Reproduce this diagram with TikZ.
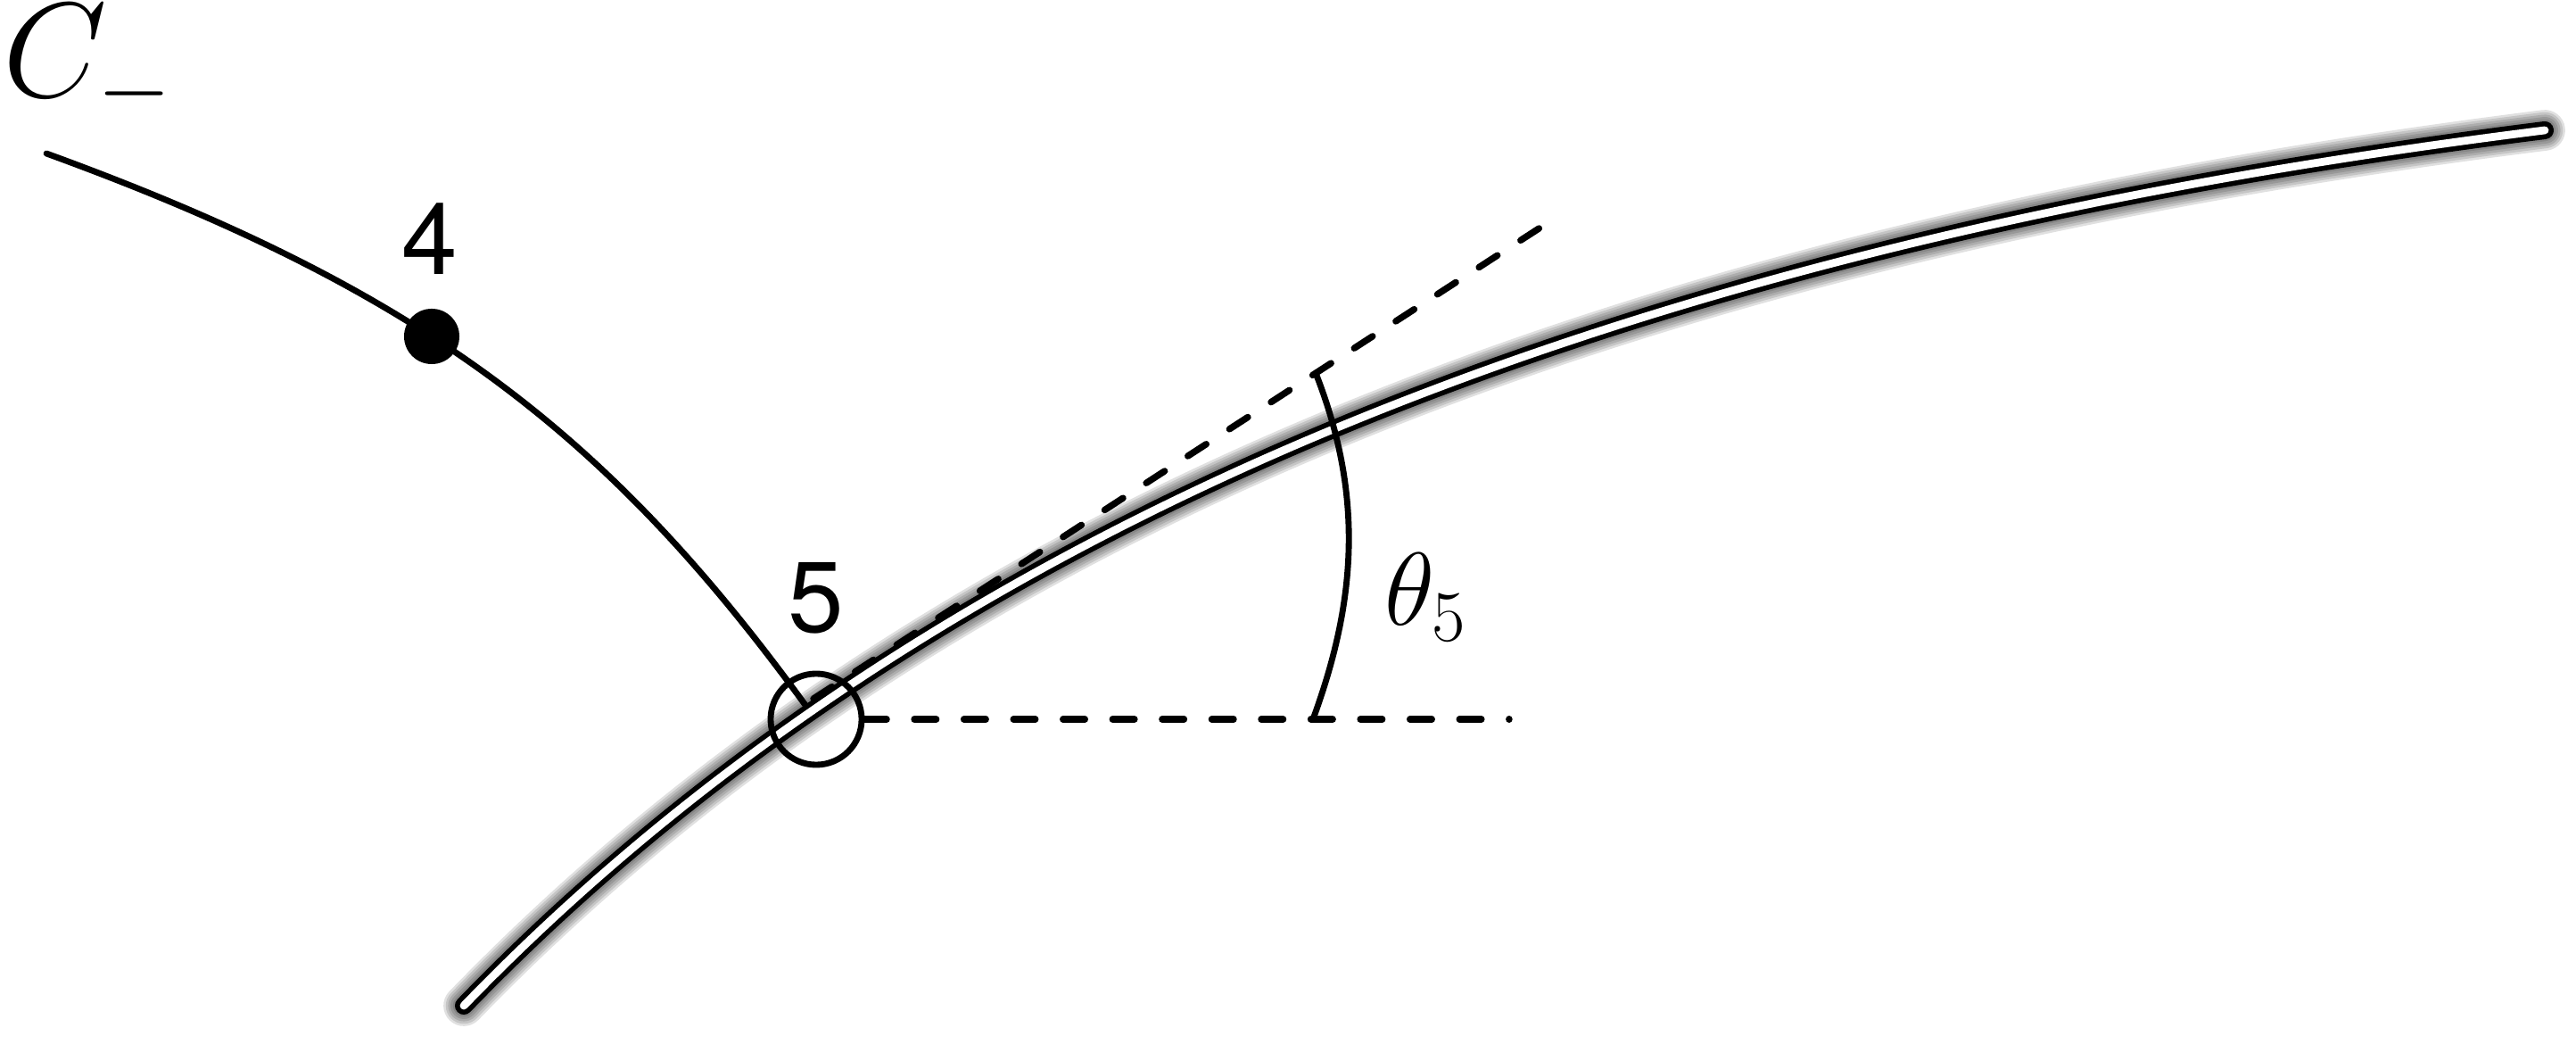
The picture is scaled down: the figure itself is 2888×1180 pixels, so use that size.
\documentclass[tikz,border=0pt]{standalone}
\usepackage{fix-cm}
\usepackage{fontspec}
\newfontfamily\digitfont{TeX Gyre Heros}
\begin{document}
\begin{tikzpicture}[x=0.01cm,y=-0.01cm,
  thinline/.style={line width=1.95pt, line cap=round},
  dashline/.style={line width=2.1pt, line cap=round, dash pattern=on 7pt off 8.8pt},
  edgeline/.style={line width=1.6pt, double=white, double distance=2.5pt, line cap=round},
  shadowline/.style={line cap=round, black, opacity=0.12},
  digit/.style={font=\digitfont\fontsize{32}{38}\selectfont, inner sep=0pt},
]
\useasboundingbox (0,0) rectangle (2888,1180);

% coordinates of the thick double curve
\coordinate (dA) at (520,1127);
\coordinate (dB) at (1111,516);
\coordinate (dC) at (1960,258);
\coordinate (dD) at (2853,146);

% shadow of the double curve
\begin{scope}[shift={(9,20)}]
  \foreach \w in {13pt,11.5pt,10pt,8.5pt,7pt,5.5pt}{
    \draw[shadowline, line width=\w] (dA) .. controls (dB) and (dC) .. (dD);
  }
\end{scope}

% curve C_-
\coordinate (cA) at (52,172);
\coordinate (cB) at (475,326);
\coordinate (cC) at (682,486);
\coordinate (cD) at (905,793);
\draw[thinline] (cA) .. controls (cB) and (cC) .. (cD);

% double curve
\draw[edgeline] (dA) .. controls (dB) and (dC) .. (dD);

% point 5 circle
\node[draw, circle, line width=1.95pt, minimum size=1.02cm, inner sep=0pt] (c5) at (915,806) {};

% dashed horizontal and tangent lines
\coordinate (hend) at (1692,806);
\draw[dashline] (c5.east) -- (hend);
\coordinate (tstart) at (912,783);
\coordinate (tend) at (1730,253);
\draw[dashline] (tstart) -- (tend);

% angle arc
\coordinate (abot) at (1472,806);
\coordinate (atop) at (1475,418);
\draw[thinline] (abot) .. controls (1522,670) and (1528,553) .. (atop);

% point 4
\node[fill, circle, minimum size=0.62cm, inner sep=0pt] (d4) at (484,377) {};

% labels
\node[anchor=base west, inner sep=0pt, font=\fontsize{43}{50}\selectfont] (cminus) at (3,109) {$C_-$};
\node[digit] (lab4) at (482,268) {4};
\node[digit] (lab5) at (915,670) {5};
\node[anchor=base west, inner sep=0pt, font=\fontsize{33}{40}\selectfont] (theta) at (1552,701) {$\theta_5$};
\end{tikzpicture}
\end{document}
